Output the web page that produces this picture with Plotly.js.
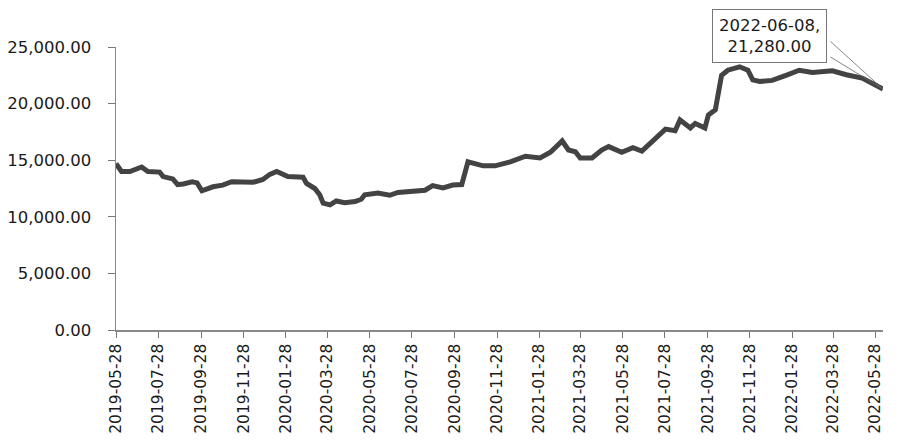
<!DOCTYPE html>
<html>
<head>
<meta charset="utf-8">
<script src="https://cdn.plot.ly/plotly-3.0.1.min.js"></script>
<style>html,body{margin:0;padding:0;background:#fff;}#chart{width:900px;height:447px;}</style>
</head>
<body>
<div id="chart"></div>
<script>
var dates = [
 '2019-05-28','2019-06-05','2019-06-17','2019-07-04','2019-07-13','2019-07-30','2019-08-04','2019-08-18','2019-08-25',
 '2019-09-02','2019-09-15','2019-09-22','2019-09-29','2019-10-15','2019-10-29','2019-11-11','2019-12-12','2019-12-26',
 '2020-01-05','2020-01-15','2020-01-31','2020-02-22','2020-02-27','2020-03-10','2020-03-17','2020-03-22','2020-04-01',
 '2020-04-10','2020-04-22','2020-05-07','2020-05-16','2020-05-21','2020-06-09','2020-06-26','2020-07-08','2020-07-27',
 '2020-08-16','2020-08-27','2020-09-11','2020-09-25','2020-10-08','2020-10-17','2020-11-08','2020-11-25','2020-12-17',
 '2021-01-08','2021-01-29','2021-02-13','2021-03-02','2021-03-11','2021-03-21','2021-03-28','2021-04-14','2021-04-28',
 '2021-05-08','2021-05-27','2021-06-12','2021-06-25','2021-07-07','2021-07-17','2021-07-29','2021-08-12','2021-08-19',
 '2021-09-03','2021-09-10','2021-09-24','2021-09-29','2021-10-09','2021-10-13','2021-10-18','2021-10-27','2021-11-06',
 '2021-11-13','2021-11-25','2021-12-02','2021-12-12','2021-12-30','2022-01-19','2022-02-07','2022-02-26','2022-03-27',
 '2022-04-16','2022-05-09','2022-06-08'
];
var values = [
 14700,14000,14000,14400,14000,13950,13550,13350,12850,
 12900,13100,13000,12300,12650,12800,13100,13050,13300,
 13750,14000,13550,13500,12950,12500,11950,11200,11050,
 11400,11250,11350,11550,11950,12100,11900,12150,12300,
 12350,12750,12550,12800,12850,14850,14500,14500,14850,
 15350,15200,15700,16700,15900,15750,15200,15200,15900,
 16200,15700,16100,15800,16500,17000,17750,17600,18550,
 17850,18250,17850,19000,19450,21050,22500,22950,23100,
 23250,22950,22100,21950,22050,22500,22950,22750,22900,
 22550,22250,21280
];
var tickDates = ['2019-05-28','2019-07-28','2019-09-28','2019-11-28','2020-01-28','2020-03-28','2020-05-28',
 '2020-07-28','2020-09-28','2020-11-28','2021-01-28','2021-03-28','2021-05-28','2021-07-28','2021-09-28',
 '2021-11-28','2022-01-28','2022-03-28','2022-05-28'];
var tickLabels = tickDates.slice();
var yTicks = [0,5000,10000,15000,20000,25000];
var lastDate = '2022-06-08';
var lastValue = 21280;
var calloutText = '2022-06-08,<br>21,280.00';

var font = 'DejaVu Sans, Verdana, sans-serif';
Plotly.newPlot('chart', [{
  x: dates, y: values, type: 'scatter', mode: 'lines',
  line: {color: '#434343', width: 5},
  hoverinfo: 'skip'
}], {
  width: 900, height: 447,
  margin: {l: 116, r: 17, t: 47, b: 117, pad: 0},
  paper_bgcolor: '#ffffff', plot_bgcolor: '#ffffff',
  showlegend: false,
  font: {family: font, color: '#1a1a1a'},
  xaxis: {
    type: 'date', range: ['2019-05-28', lastDate],
    tickvals: tickDates, ticktext: tickLabels, tickangle: -90,
    ticks: 'outside', ticklen: 6, tickcolor: '#777', tickwidth: 1,
    showline: true, linecolor: '#888', linewidth: 1.5,
    showgrid: false, zeroline: false,
    tickfont: {family: font, size: 15.5, color: '#1a1a1a'}
  },
  yaxis: {
    range: [0, 25000], tickvals: yTicks, tickformat: ',.2f',
    ticks: 'outside', ticklen: 7, tickcolor: '#777', tickwidth: 1,
    showline: true, linecolor: '#888', linewidth: 1.5,
    showgrid: false, zeroline: false, ticklabelstandoff: 13,
    tickfont: {family: font, size: 16.5, color: '#1a1a1a'}
  },
  annotations: [
    {x: lastDate, y: lastValue, xref: 'x', yref: 'y', text: '',
     showarrow: true, arrowhead: 0, arrowwidth: 0.8, arrowcolor: '#666', ax: -54, ay: -49},
    {x: lastDate, y: lastValue, xref: 'x', yref: 'y', text: '',
     showarrow: true, arrowhead: 0, arrowwidth: 0.8, arrowcolor: '#666', ax: -54, ay: -33},
    {x: lastDate, y: lastValue, xref: 'x', yref: 'y', text: calloutText,
     showarrow: true, arrowhead: 0, arrowwidth: 0.1, arrowcolor: 'rgba(0,0,0,0)', ax: -114, ay: -53,
     bgcolor: '#ffffff', bordercolor: '#777', borderwidth: 1, borderpad: 6,
     font: {family: font, size: 16.5, color: '#1a1a1a'}, align: 'center'}
  ]
}, {staticPlot: true});
</script>
</body>
</html>
